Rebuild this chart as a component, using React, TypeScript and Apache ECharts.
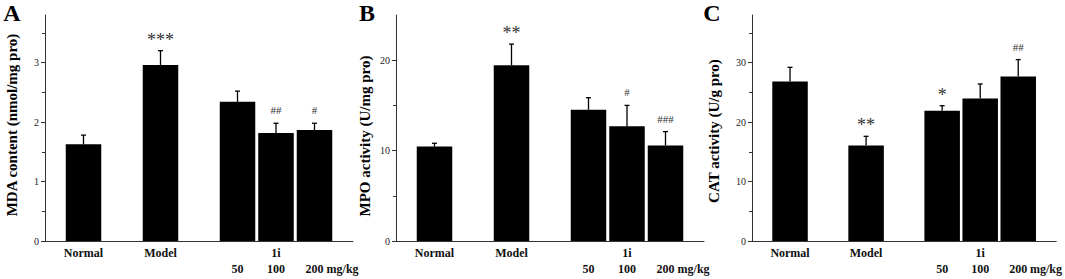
import React, { useEffect, useRef } from "react";
import * as echarts from "echarts";

// ---- data ----
const groupNames = ["Normal", "Model", "50", "100", "200"];
const groupSlots = [1, 3, 5, 6, 7];
const doseLabel = "1i";
const unitLabel = "mg/kg";
const unitSlot = 7.73;

const mdaMean = [1.625, 2.96, 2.34, 1.815, 1.865];
const mdaErr = [0.155, 0.24, 0.18, 0.165, 0.115];
const mdaSig = ["", "***", "", "##", "#"];
const mdaTicks = [0, 1, 2, 3];

const mpoMean = [10.44, 19.44, 14.52, 12.7, 10.56];
const mpoErr = [0.37, 2.34, 1.33, 2.3, 1.54];
const mpoSig = ["", "**", "", "#", "###"];
const mpoTicks = [0, 10, 20];

const catMean = [26.8, 16.05, 21.9, 23.96, 27.66];
const catErr = [2.4, 1.55, 0.85, 2.44, 2.84];
const catSig = ["", "**", "*", "", "##"];
const catTicks = [0, 10, 20, 30];

const SERIF = "'Liberation Serif', 'Times New Roman', serif";

const panels = [
  { letter: "A", title: "MDA content (nmol/mg pro)", mean: mdaMean, err: mdaErr, sig: mdaSig, ticks: mdaTicks, max: 3.8, interval: 1, left: 45, letterX: 12, titleX: 12, titleY: 125 },
  { letter: "B", title: "MPO activity (U/mg pro)", mean: mpoMean, err: mpoErr, sig: mpoSig, ticks: mpoTicks, max: 25, interval: 10, left: 396, letterX: 367, titleX: 365, titleY: 136 },
  { letter: "C", title: "CAT activity (U/g pro)", mean: catMean, err: catErr, sig: catSig, ticks: catTicks, max: 38, interval: 10, left: 752, letterX: 712, titleX: 714, titleY: 131 },
];

function xLabel(v: number): string {
  if (v === unitSlot) return `{r| }\n{r|${unitLabel}}`;
  const i = groupSlots.indexOf(v);
  if (i < 0) return "";
  if (i < 2) return `{r|${groupNames[i]}}\n{r| }`;
  const top = i === 3 ? doseLabel : " ";
  return `{r|${top}}\n{r|${groupNames[i]}}`;
}

export default function App() {
  const ref = useRef<HTMLDivElement>(null);
  useEffect(() => {
    if (!ref.current) return;
    const chart = echarts.init(ref.current, undefined, { renderer: "svg" });
    const grids: any[] = [];
    const xAxes: any[] = [];
    const yAxes: any[] = [];
    const series: any[] = [];
    const graphic: any[] = [];
    panels.forEach((p, k) => {
      grids.push({ left: p.left, top: 15, width: 308, height: 226 });
      xAxes.push({
        type: "value", gridIndex: k, min: 0, max: 8,
        axisLine: { show: true, lineStyle: { color: "#333", width: 1 } },
        axisTick: { show: false },
        splitLine: { show: false },
        axisLabel: {
          customValues: [...groupSlots, unitSlot],
          formatter: xLabel,
          hideOverlap: false,
          showMinLabel: true,
          showMaxLabel: true,
          margin: 4,
          rich: {
            r: { fontSize: 12, fontWeight: "bold", fontFamily: SERIF, color: "#111", lineHeight: 16 },
          },
        },
      });
      yAxes.push({
        type: "value", gridIndex: k, min: 0, max: p.max, interval: p.interval,
        axisLine: { show: true, lineStyle: { color: "#333", width: 1 } },
        axisTick: { show: true, inside: false, length: 4, customValues: p.ticks, lineStyle: { color: "#333" } },
        minorTick: { show: true, splitNumber: 2, length: 3, lineStyle: { color: "#333" } },
        splitLine: { show: false },
        axisLabel: { customValues: p.ticks, fontSize: 10, fontFamily: SERIF, color: "#222", margin: 6 },
      });
      series.push({
        type: "bar", xAxisIndex: k, yAxisIndex: k, barWidth: 35.5,
        itemStyle: { color: "#000" },
        data: groupSlots.map((s, j) => [s, p.mean[j]]),
      });
      series.push({
        type: "custom", xAxisIndex: k, yAxisIndex: k, z: 5,
        data: groupSlots.map((s, j) => [s, p.mean[j], p.err[j]]),
        renderItem: (params: any, api: any) => {
          const x = api.value(0), m = api.value(1), e = api.value(2);
          const base = api.coord([x, m]);
          const top = api.coord([x, m + e]);
          const sig = p.sig[params.dataIndex];
          const star = sig.indexOf("*") >= 0;
          return {
            type: "group",
            children: [
              { type: "line", shape: { x1: base[0], y1: base[1], x2: top[0], y2: top[1] }, style: { stroke: "#000", lineWidth: 1.3 } },
              { type: "line", shape: { x1: top[0] - 2.5, y1: top[1], x2: top[0] + 2.5, y2: top[1] }, style: { stroke: "#000", lineWidth: 1.3 } },
              {
                type: "text", x: top[0], y: top[1] - (star ? 11 : 13),
                style: { text: sig, align: "center", verticalAlign: "middle", fontSize: star ? 18 : 11, fontFamily: SERIF, fill: "#333" },
              },
            ],
          };
        },
      });
      graphic.push({
        type: "text", x: p.letterX, y: 13,
        style: { text: p.letter, align: "center", verticalAlign: "middle", fontSize: 24, fontWeight: "bold", fontFamily: SERIF, fill: "#000" },
      });
      graphic.push({
        type: "text", x: p.titleX, y: p.titleY, rotation: Math.PI / 2,
        style: { text: p.title, align: "center", verticalAlign: "middle", fontSize: 15, fontWeight: "bold", fontFamily: SERIF, fill: "#000" },
      });
    });
    chart.setOption({
      animation: false,
      backgroundColor: "#fff",
      grid: grids,
      xAxis: xAxes,
      yAxis: yAxes,
      series,
      graphic,
    });
    return () => chart.dispose();
  }, []);
  return <div ref={ref} style={{ position: "fixed", left: 0, top: 0, width: 1065, height: 279 }} />;
}
